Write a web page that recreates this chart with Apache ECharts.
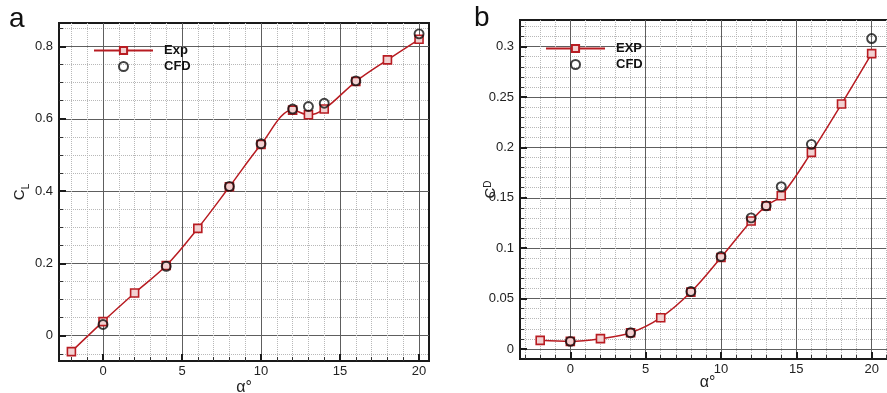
<!DOCTYPE html>
<html><head><meta charset="utf-8">
<script src="https://cdn.jsdelivr.net/npm/echarts@6/dist/echarts.min.js"></script>
<style>html,body{margin:0;padding:0;background:#fff}#c{width:887px;height:393px}</style>
</head><body><div id="c"></div>
<script>
// ---- data ----
const alphaExp = [-2, 0, 2, 4, 6, 8, 10, 12, 13, 14, 16, 18, 20];
const clExp = [-0.044, 0.039, 0.118, 0.194, 0.297, 0.412, 0.529, 0.624, 0.611, 0.627, 0.703, 0.763, 0.82];
const alphaCfd = [0, 4, 8, 10, 12, 13, 14, 16, 20];
const clCfd = [0.031, 0.192, 0.413, 0.531, 0.627, 0.634, 0.643, 0.705, 0.835];
const cdExp = [0.0085, 0.0075, 0.0102, 0.016, 0.031, 0.0564, 0.0907, 0.127, 0.142, 0.152, 0.195, 0.243, 0.293];
const cdCfd = [0.0075, 0.016, 0.057, 0.0917, 0.130, 0.142, 0.161, 0.203, 0.308];
const xTickLabels = [0, 5, 10, 15, 20];
const clTickLabels = [0, 0.2, 0.4, 0.6, 0.8];
const cdTickLabels = [0, 0.05, 0.1, 0.15, 0.2, 0.25, 0.3];

const pairs = (xs, ys) => xs.map((x, i) => [x, ys[i]]);
const FONT = 'Liberation Sans, Arial, sans-serif';
const RED = '#b81c22';
const lab = (ticks) => (v) => {
  const n = typeof v === 'number' ? v : parseFloat(v);
  return ticks.some(t => Math.abs(t - n) < 1e-9) ? String(Math.round(n * 1000) / 1000) : '';
};

function xAxisCfg(gi, min, max, gap) {
  return {
    type: 'value', gridIndex: gi, min: min, max: max, splitNumber: 5,
    name: 'α°', nameLocation: 'middle', nameGap: gap, nameMoveOverlap: false,
    nameTextStyle: {fontFamily: FONT, fontSize: 16, color: '#222'},
    axisLine: {show: true, onZero: false, lineStyle: {color: '#1a1a1a', width: 2}},
    axisTick: {show: true, inside: true, length: 7, lineStyle: {color: '#1a1a1a', width: 2}},
    minorTick: {show: true, splitNumber: 5, length: 4, lineStyle: {color: '#333', width: 1}},
    axisLabel: {show: true, hideOverlap: false, fontFamily: FONT, fontSize: 13, color: '#222', margin: 4,
      formatter: lab(xTickLabels)},
    splitLine: {show: true, showMinLine: false, showMaxLine: false, lineStyle: {color: '#5e5e5e', width: 1}},
    minorSplitLine: {show: true, lineStyle: {color: '#b8b8b8', width: 1, type: 'dotted'}}
  };
}
function yAxisCfg(gi, min, max, splitNumber, split, ticks, text, gap) {
  return {
    type: 'value', gridIndex: gi, min: min, max: max, splitNumber: splitNumber,
    name: text, nameLocation: 'middle', nameGap: gap, nameRotate: 90, nameMoveOverlap: false,
    nameTextStyle: {fontFamily: FONT, color: '#222', rich: rich},
    axisLine: {show: true, onZero: false, lineStyle: {color: '#1a1a1a', width: 2}},
    axisTick: {show: true, inside: true, length: 7, lineStyle: {color: '#1a1a1a', width: 2}},
    minorTick: {show: true, splitNumber: split, length: 4, lineStyle: {color: '#333', width: 1}},
    axisLabel: {show: true, hideOverlap: false, fontFamily: FONT, fontSize: 13, color: '#222', margin: 6,
      formatter: lab(ticks)},
    splitLine: {show: true, showMinLine: false, showMaxLine: false, lineStyle: {color: '#5e5e5e', width: 1}},
    minorSplitLine: {show: true, lineStyle: {color: '#b8b8b8', width: 1, type: 'dotted'}}
  };
}
const rich = {
  c: {fontFamily: FONT, fontSize: 15, color: '#222', padding: [0, 0, 4, 0]},
  s: {fontFamily: FONT, fontSize: 10, color: '#222', verticalAlign: 'bottom'},
  t: {fontFamily: FONT, fontSize: 10, color: '#222', verticalAlign: 'top'}
};

function expSeries(name, xi, yi, data) {
  return {
    name: name, type: 'line', xAxisIndex: xi, yAxisIndex: yi, data: data, smooth: 0.35,
    symbol: 'rect', symbolSize: 8,
    lineStyle: {color: RED, width: 1.5},
    itemStyle: {color: '#f2d2d2', borderColor: RED, borderWidth: 1.6}, z: 3
  };
}
function cfdSeries(xi, yi, data) {
  return {
    name: 'CFD', type: 'scatter', xAxisIndex: xi, yAxisIndex: yi, data: data,
    symbol: 'circle', symbolSize: 9,
    itemStyle: {color: 'rgba(255,255,255,0)', borderColor: '#111', borderWidth: 1.9}, z: 4
  };
}
function legendCfg(left, top, names) {
  return {
    left: left, top: top, orient: 'vertical', itemWidth: 59, itemHeight: 9, itemGap: 3,
    selectedMode: false, data: names,
    textStyle: {fontFamily: FONT, fontSize: 13, fontWeight: 'bold', color: '#111', padding: [0, 0, 0, 6]}
  };
}

const option = {
  animation: false,
  backgroundColor: '#fff',
  grid: [
    {left: 59, top: 23, width: 370, height: 338, show: true, borderColor: '#1a1a1a', borderWidth: 2,
     containLabel: false, outerBoundsMode: 'none'},
    {left: 520, top: 20, width: 375, height: 339, show: true, borderColor: '#1a1a1a', borderWidth: 2,
     containLabel: false, outerBoundsMode: 'none'}
  ],
  xAxis: [xAxisCfg(0, -2.785, 20.63, 19), xAxisCfg(1, -3.34, 21.55, 16)],
  yAxis: [
    yAxisCfg(0, -0.07, 0.865, 5, 4, clTickLabels, '{c|C}{s|L}', 28),
    yAxisCfg(1, -0.01, 0.3264, 7, 5, cdTickLabels, '{c|C}{t|D}', 18)
  ],
  legend: [legendCfg(88, 39, ['Exp', 'CFD']), legendCfg(540, 37, ['EXP', 'CFD'])],
  graphic: [
    {type: 'text', left: 9, top: 5, style: {text: 'a', fontFamily: FONT, fontSize: 28, fill: '#111'}},
    {type: 'text', left: 474, top: 4, style: {text: 'b', fontFamily: FONT, fontSize: 28, fill: '#111'}}
  ],
  series: [
    expSeries('Exp', 0, 0, pairs(alphaExp, clExp)),
    cfdSeries(0, 0, pairs(alphaCfd, clCfd)),
    expSeries('EXP', 1, 1, pairs(alphaExp, cdExp)),
    cfdSeries(1, 1, pairs(alphaCfd, cdCfd))
  ]
};
const chart = echarts.init(document.getElementById('c'), null, {renderer: 'canvas'});
chart.setOption(option);
</script></body></html>
